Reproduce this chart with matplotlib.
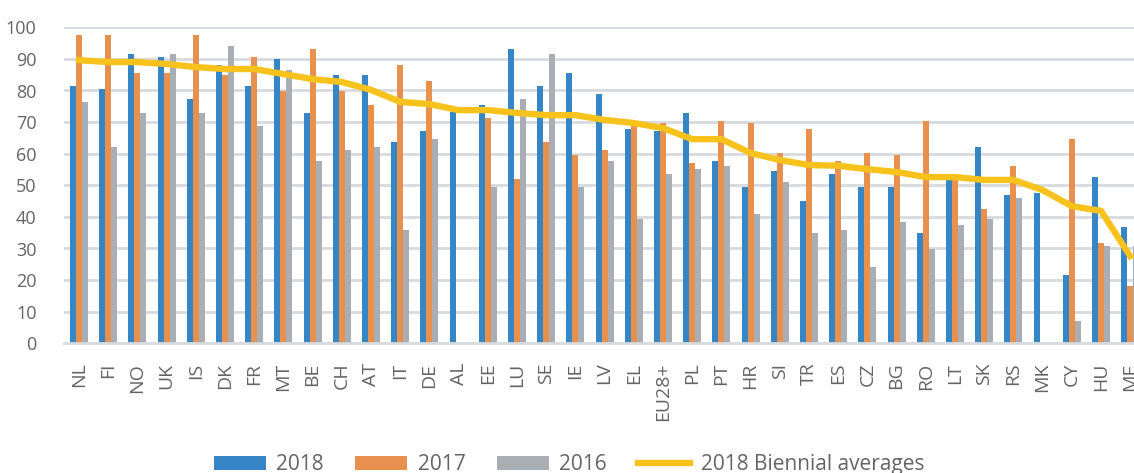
import matplotlib
matplotlib.use("Agg")
import matplotlib.pyplot as plt
import numpy as np

categories = ["NL", "FI", "NO", "UK", "IS", "DK", "FR", "MT", "BE", "CH", "AT", "IT", "DE",
              "AL", "EE", "LU", "SE", "IE", "LV", "EL", "EU28+", "PL", "PT", "HR", "SI", "TR",
              "ES", "CZ", "BG", "RO", "LT", "SK", "RS", "MK", "CY", "HU", "ME"]

v2018 = [81.4, 80.5, 91.5, 90.6, 77.3, 88.1, 81.4, 90.0, 72.9, 84.9, 84.9, 63.7, 67.2,
         73.2, 75.4, 93.1, 81.4, 85.5, 78.9, 67.8, 67.2, 72.9, 57.7, 49.5, 54.5, 45.0,
         53.6, 49.5, 49.5, 34.9, 52.0, 62.1, 46.9, 47.5, 21.6, 52.6, 36.8]
v2017 = [97.6, 97.6, 85.5, 85.5, 97.6, 84.9, 90.6, 79.8, 93.1, 79.8, 75.4, 88.1, 83.0,
         np.nan, 71.3, 52.0, 63.7, 59.6, 61.2, 68.8, 69.7, 57.0, 70.3, 69.7, 60.2, 67.8,
         57.7, 60.2, 59.6, 70.3, 52.5, 42.5, 56.1, np.nan, 64.6, 31.7, 18.1]
v2016 = [76.4, 62.1, 72.9, 91.5, 72.9, 94.1, 68.8, 86.5, 57.7, 61.2, 62.1, 35.9, 64.6,
         np.nan, 49.5, 77.3, 91.5, 49.5, 57.7, 39.4, 53.6, 55.1, 56.1, 40.9, 51.0, 34.9,
         35.9, 24.1, 38.4, 29.8, 37.4, 39.4, 46.0, np.nan, 7.1, 30.8, 30.8]
biennial = [89.6, 89.0, 89.0, 88.4, 87.4, 86.8, 86.8, 85.2, 83.6, 82.7, 80.2, 76.4, 75.7,
            73.8, 73.8, 72.9, 72.2, 72.2, 70.7, 69.7, 68.1, 64.6, 64.6, 60.2, 58.0, 56.4,
            56.2, 55.1, 54.2, 52.6, 52.6, 51.7, 51.7, 48.5, 43.4, 41.9, 27.6]

yticks = [0, 10, 20, 30, 40, 50, 60, 70, 80, 90, 100]

plt.rcParams['font.family'] = ['Open Sans', 'DejaVu Sans']
TXT = "#636466"

fig = plt.figure(figsize=(11.34, 4.73), dpi=100)
ax = fig.add_axes([64.4 / 1134, (473 - 343.3) / 473, (37 * 29.2) / 1134, 316 / 473])

x = np.arange(len(categories))
w = 0.205
b1 = ax.bar(x - w, v2018, w, color="#3685c5", label="2018", zorder=3)
b2 = ax.bar(x, v2017, w, color="#e8914f", label="2017", zorder=3)
b3 = ax.bar(x + w, v2016, w, color="#a9aeb4", label="2016", zorder=3)
ln, = ax.plot(x, biennial, color="#f8c21c", lw=4.6, label="2018 Biennial averages", zorder=4,
              solid_joinstyle="round")

ax.set_xlim(-0.5, len(categories) - 0.5)
ax.set_ylim(0, 100)
ax.set_yticks(yticks)
ax.set_xticks(x)
ax.set_xticklabels(categories, rotation=90, fontsize=14, color=TXT)
ax.tick_params(axis="y", labelsize=13, colors=TXT, length=0, pad=20)
ax.tick_params(axis="x", length=0, pad=14, colors=TXT)
ax.grid(axis="y", color="#d7dade", lw=2, zorder=0)
for s in ["top", "right", "left"]:
    ax.spines[s].set_visible(False)
ax.spines["bottom"].set_color("#d7dade")
ax.spines["bottom"].set_linewidth(2)
ax.spines["bottom"].set_zorder(5)

leg = fig.legend(handles=[b1, b2, b3, ln], loc="center",
                 bbox_to_anchor=(569 / 1134, (473 - 464.5) / 473), ncol=4,
                 frameon=False, fontsize=15, handlelength=2.5, handleheight=0.67,
                 handletextpad=0.5, columnspacing=1.5, labelcolor=TXT,
                 borderpad=0, borderaxespad=0)

fig.savefig("out.png", dpi=100)
